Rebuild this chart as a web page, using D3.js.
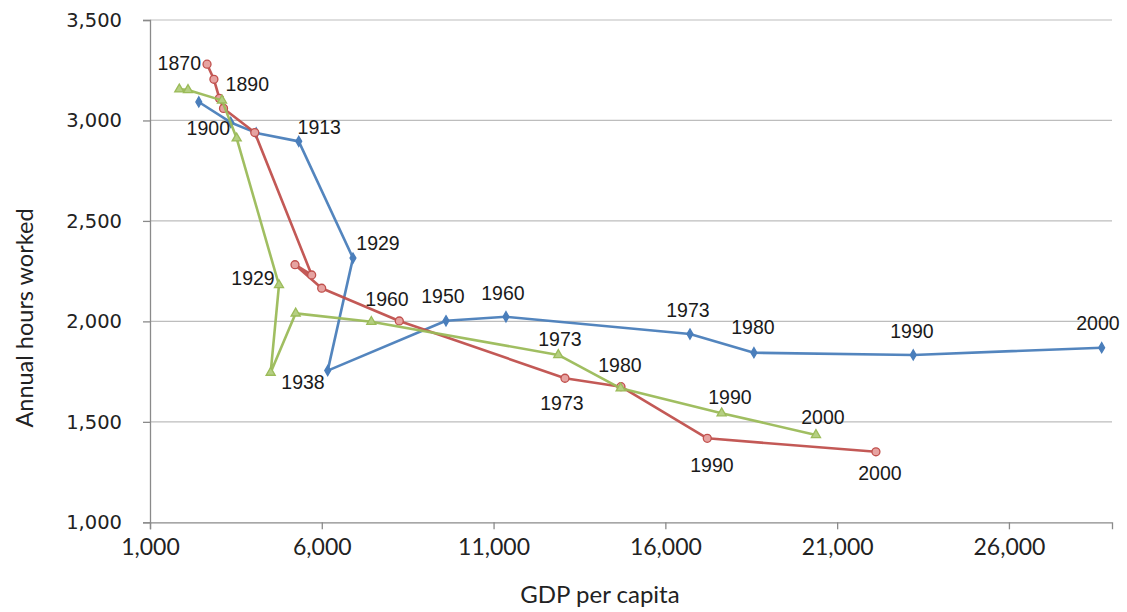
<!DOCTYPE html>
<html>
<head>
<meta charset="utf-8">
<script src="https://cdn.jsdelivr.net/npm/d3@7"></script>
<style>
  html, body { margin: 0; padding: 0; background: #fff; }
  svg { display: block; }
</style>
</head>
<body>
<svg id="chart" width="1127" height="612"></svg>
<script>
// ---- data ----
const usaYears  = [1870, 1890, 1900, 1913, 1929, 1938, 1950, 1960, 1973, 1980, 1990, 2000];
const usaGdp    = [2420, 3350, 4091, 5330, 6908, 6172, 9615, 11361, 16716, 18578, 23215, 28700];
const usaHours  = [3092, 2990, 2938, 2896, 2315, 1755, 2003, 2023, 1937, 1844, 1833, 1869];

const nldYears  = [1870, 1880, 1890, 1900, 1913, 1929, 1938, 1950, 1960, 1973, 1980, 1990, 2000];
const nldGdp    = [2660, 2860, 3020, 3140, 4049, 5706, 5220, 5997, 8256, 13078, 14708, 17220, 22129];
const nldHours  = [3280, 3205, 3110, 3060, 2940, 2231, 2282, 2165, 2002, 1717, 1675, 1418, 1351];

const fraYears  = [1870, 1880, 1900, 1913, 1929, 1938, 1950, 1960, 1973, 1980, 1990, 2000];
const fraGdp    = [1853, 2106, 3095, 3523, 4754, 4512, 5240, 7442, 12884, 14699, 17638, 20383];
const fraHours  = [3155, 3152, 3100, 2911, 2181, 1745, 2040, 1998, 1833, 1667, 1543, 1435];

// year annotations (anchored in data space)
const labelText  = ["1870","1890","1900","1913","1929","1929","1938","1960","1950","1960","1973","1973","1973","1980","1980","1990","1990","1990","2000","2000","2000"];
const labelGdp   = [1853, 3832, 2697, 5927, 7636, 3998, 5453, 7898, 9527, 11273, 12932, 12991, 16658, 14679, 18549, 17880, 17356, 23177, 20587, 22246, 28590];
const labelHours = [3285, 3182, 2963, 2968, 2389, 2215, 1700, 2110, 2126, 2143, 1911, 1594, 2057, 1783, 1972, 1625, 1285, 1954, 1526, 1245, 1994];

const xTicks = [1000, 6000, 11000, 16000, 21000, 26000];
const yTicks = [1000, 1500, 2000, 2500, 3000, 3500];
const xTitle = "GDP per capita";
const yTitle = "Annual hours worked";

// ---- layout ----
const svg = d3.select("#chart");
const plotLeft = 150, plotRight = 1112, plotTop = 20, plotBottom = 522.3;
const x = d3.scaleLinear().domain([1000, 29000]).range([plotLeft, plotRight]);
const y = d3.scaleLinear().domain([1000, 3500]).range([plotBottom, plotTop]);
const fmt = d3.format(",");

svg.append("rect").attr("width", 1127).attr("height", 612).attr("fill", "#fff");

// gridlines
svg.append("g").selectAll("line").data(yTicks.filter(d => d > 1000)).join("line")
  .attr("x1", plotLeft).attr("x2", plotRight)
  .attr("y1", d => y(d)).attr("y2", d => y(d))
  .attr("stroke", "#bdbdbd").attr("stroke-width", 1.2);

// y axis
const yAxis = svg.append("g").attr("transform", `translate(${plotLeft},0)`)
  .call(d3.axisLeft(y).tickValues(yTicks).tickFormat(fmt).tickSize(7).tickPadding(21));
yAxis.select(".domain").attr("stroke", "#8a8a8a").attr("stroke-width", 1.3);
yAxis.selectAll(".tick line").attr("stroke", "#8a8a8a").attr("stroke-width", 1.3);
yAxis.selectAll(".tick text").attr("font-family", "DejaVu Sans, Verdana, sans-serif")
  .attr("font-size", 19.5).attr("fill", "#222");

// x axis
const xAxis = svg.append("g").attr("transform", `translate(0,${plotBottom})`)
  .call(d3.axisBottom(x).tickValues(xTicks).tickFormat(fmt).tickSize(7).tickPadding(9));
xAxis.select(".domain").attr("stroke", "#8a8a8a").attr("stroke-width", 1.3);
xAxis.selectAll(".tick line").attr("stroke", "#8a8a8a").attr("stroke-width", 1.3);
xAxis.selectAll(".tick text").attr("font-family", "Lato, sans-serif")
  .attr("font-size", 23).attr("fill", "#222");

// titles
svg.append("text").attr("x", 600).attr("y", 603).attr("text-anchor", "middle")
  .attr("font-family", "Lato, sans-serif").attr("font-size", 24).attr("fill", "#222").text(xTitle);
svg.append("text").attr("transform", "translate(33,318) rotate(-90)").attr("text-anchor", "middle")
  .attr("font-family", "Lato, sans-serif").attr("font-size", 23.5).attr("fill", "#222").text(yTitle);

// series
const series = [
  { name: "USA", years: usaYears, gdp: usaGdp, hours: usaHours, color: "#4a7ebb", symbol: d3.symbolDiamond, size: 30, fill: "#4a7ebb" },
  { name: "Netherlands", years: nldYears, gdp: nldGdp, hours: nldHours, color: "#c0504d", symbol: d3.symbolCircle, size: 50, fill: "#e6a3a1" },
  { name: "France", years: fraYears, gdp: fraGdp, hours: fraHours, color: "#9bbb59", symbol: d3.symbolTriangle, size: 36, fill: "#b5cf82" }
];

const line = d3.line().x(d => x(d[0])).y(d => y(d[1]));

series.forEach(s => {
  const pts = s.gdp.map((g, i) => [g, s.hours[i]]);
  const g = svg.append("g");
  g.append("path").datum(pts).attr("d", line)
    .attr("fill", "none").attr("stroke", s.color).attr("stroke-width", 2.6)
    .attr("stroke-linejoin", "round").attr("stroke-opacity", 0.95);
  g.selectAll("path.m").data(pts).join("path").attr("class", "m")
    .attr("transform", d => `translate(${x(d[0])},${y(d[1])})`)
    .attr("d", d3.symbol().type(s.symbol).size(s.size))
    .attr("fill", s.fill).attr("stroke", s.color).attr("stroke-width", 1.3);
});

// year labels
svg.append("g").selectAll("text").data(labelText.map((t, i) => ({ t, gx: labelGdp[i], hy: labelHours[i] })))
  .join("text")
  .attr("x", d => x(d.gx)).attr("y", d => y(d.hy)).attr("dy", "0.36em")
  .attr("text-anchor", "middle")
  .attr("font-family", "Liberation Sans, Arial, sans-serif").attr("font-size", 19.5).attr("fill", "#1a1a1a")
  .text(d => d.t);
</script>
</body>
</html>
